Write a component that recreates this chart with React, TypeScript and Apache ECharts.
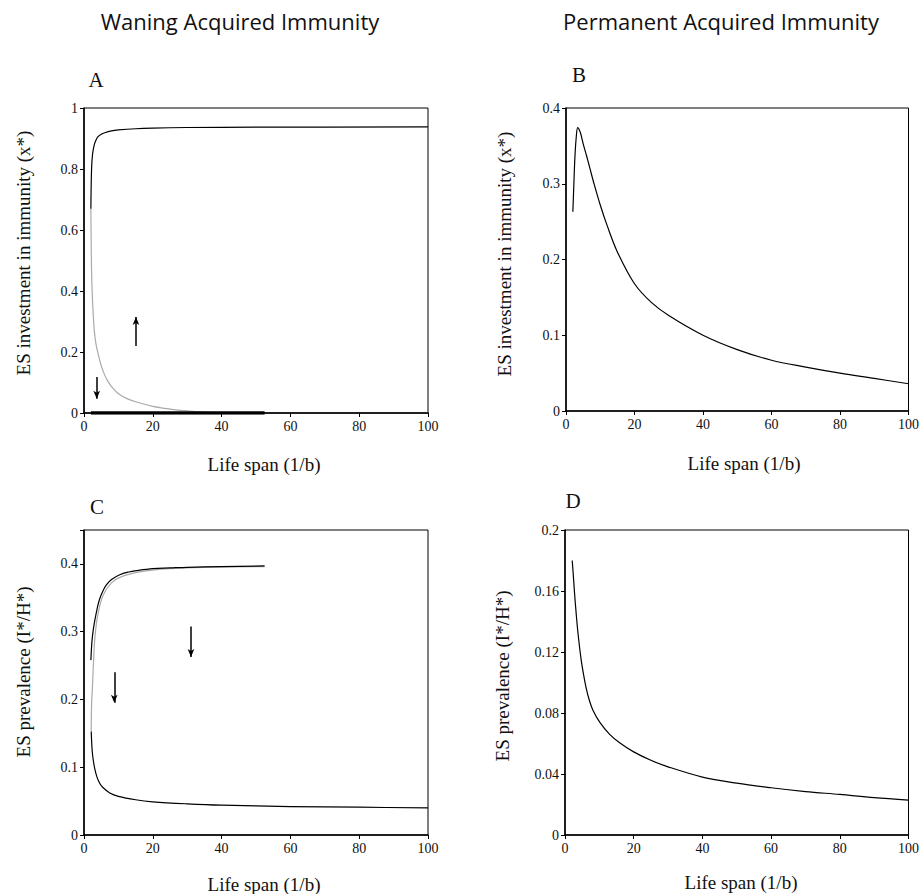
import React, { useEffect, useRef } from "react";
import * as echarts from "echarts";

// ---- Panel A: ES investment in immunity, waning immunity ----
const aUpperX = [2, 2.2, 2.5, 3, 3.5, 4, 5, 6, 8, 10, 15, 20, 30, 50, 100];
const aUpperY = [0.67, 0.8, 0.85, 0.88, 0.895, 0.905, 0.914, 0.919, 0.925, 0.928, 0.932, 0.934, 0.936, 0.937, 0.938];
const aGrayX = [2, 2.05, 2.15, 2.3, 2.6, 3, 3.5, 4.2, 5, 6, 7, 8.5, 10, 12.5, 15, 20, 25, 30, 35, 40];
const aGrayY = [0.67, 0.6, 0.5, 0.42, 0.34, 0.27, 0.225, 0.19, 0.155, 0.125, 0.103, 0.08, 0.063, 0.047, 0.037, 0.022, 0.013, 0.007, 0.003, 0.001];
const aZeroX = [2, 52.5];
const aZeroY = [0, 0];
const aArrows = [
  { x: 15.1, from: 0.22, to: 0.315 },
  { x: 3.7, from: 0.118, to: 0.047 },
];

// ---- Panel B: ES investment in immunity, permanent immunity ----
const bX = [2, 2.3, 2.6, 3, 3.4, 3.8, 4.3, 5, 6, 7, 8, 10, 12, 15, 20, 25, 30, 40, 50, 60, 70, 80, 90, 100];
const bY = [0.263, 0.3, 0.335, 0.362, 0.374, 0.372, 0.366, 0.353, 0.337, 0.32, 0.303, 0.272, 0.245, 0.21, 0.168, 0.143, 0.126, 0.1, 0.081, 0.067, 0.058, 0.05, 0.043, 0.036];

// ---- Panel C: ES prevalence, waning immunity ----
const cUpperX = [2, 2.3, 2.7, 3.2, 4, 4.6, 5.5, 6.5, 8, 10.4, 13, 15.2, 20, 25, 30, 40, 52.5];
const cUpperY = [0.258, 0.285, 0.303, 0.318, 0.338, 0.349, 0.36, 0.369, 0.377, 0.384, 0.388, 0.39, 0.393, 0.394, 0.395, 0.396, 0.397];
const cGrayX = [2.1, 2.15, 2.25, 2.4, 2.7, 3.2, 4.1, 5.6, 8, 11.3, 17.1, 24.8, 35, 52.5];
const cGrayY = [0.1525, 0.18, 0.2, 0.212, 0.248, 0.293, 0.327, 0.354, 0.372, 0.382, 0.389, 0.393, 0.395, 0.396];
const cLowerX = [2.1, 2.3, 2.5, 2.8, 3.2, 3.8, 4.6, 5.5, 7.5, 10, 15, 20, 30, 40, 60, 80, 100];
const cLowerY = [0.1525, 0.13, 0.118, 0.107, 0.096, 0.085, 0.076, 0.07, 0.062, 0.057, 0.052, 0.049, 0.046, 0.044, 0.042, 0.041, 0.04];
const cArrows = [
  { x: 31.1, from: 0.3075, to: 0.2625 },
  { x: 8.8, from: 0.24, to: 0.195 },
];

// ---- Panel D: ES prevalence, permanent immunity ----
const dX = [2.1, 2.4, 2.8, 3.3, 3.8, 4.7, 5.5, 6.2, 7, 8.1, 10.1, 13, 15.9, 20, 25, 30, 40, 50, 60, 70, 80, 90, 100];
const dY = [0.18, 0.171, 0.158, 0.144, 0.132, 0.115, 0.104, 0.096, 0.089, 0.082, 0.074, 0.066, 0.0605, 0.0545, 0.049, 0.0447, 0.038, 0.034, 0.031, 0.0285, 0.0266, 0.0245, 0.0229];

// ---- Text ----
const columnTitles = ["Waning Acquired Immunity", "Permanent Acquired Immunity"];
const panelLetters = ["A", "B", "C", "D"];
const xAxisTitle = "Life span (1/b)";
const yAxisTitles = [
  "ES investment in immunity (x*)",
  "ES investment in immunity (x*)",
  "ES prevalence (I*/H*)",
  "ES prevalence (I*/H*)",
];
const xTicks = { min: 0, max: 100, interval: 20 };
const yTicks = [
  { min: 0, max: 1, interval: 0.2 },
  { min: 0, max: 0.4, interval: 0.1 },
  { min: 0, max: 0.45, interval: 0.1 },
  { min: 0, max: 0.2, interval: 0.04 },
];

const zip = (xs: number[], ys: number[]) => xs.map((x, i) => [x, ys[i]]);

const SERIF = "Liberation Serif";
const SANS = "Open Sans";

export default function App() {
  const ref = useRef<HTMLDivElement>(null);

  useEffect(() => {
    if (!ref.current) return;
    const chart = echarts.init(ref.current, undefined, { renderer: "svg" });

    const grids = [
      { left: 84, top: 108, width: 344, height: 305 },
      { left: 566, top: 108, width: 343, height: 303 },
      { left: 84, top: 530, width: 344, height: 305 },
      { left: 565, top: 530, width: 345, height: 305 },
    ];

    const xAxes = grids.map((_, i) => ({
      type: "value",
      gridIndex: i,
      min: xTicks.min,
      max: xTicks.max,
      interval: xTicks.interval,
      splitLine: { show: false },
      axisLine: { show: true, onZero: false, lineStyle: { color: "#000", width: 1.5 } },
      axisTick: { show: true, inside: false, length: 4, lineStyle: { color: "#000", width: 1 } },
      axisLabel: { color: "#111", fontFamily: SERIF, fontSize: 14, margin: 6 },
    }));

    const yAxes = grids.map((_, i) => ({
      type: "value",
      gridIndex: i,
      min: yTicks[i].min,
      max: yTicks[i].max,
      interval: yTicks[i].interval,
      splitLine: { show: false },
      axisLine: { show: true, onZero: false, lineStyle: { color: "#000", width: 1.5 } },
      axisTick: { show: true, inside: false, length: 4, lineStyle: { color: "#000", width: 1 } },
      axisLabel: {
        color: "#111",
        fontFamily: SERIF,
        fontSize: 14,
        margin: 6,
        formatter: (v: number) => {
          const r = Math.round(v * 1000) / 1000;
          if (i === 2 && r > 0.41) return "";
          return String(r);
        },
      },
    }));

    const curve = (idx: number, xs: number[], ys: number[], color: string, width = 1.2) => ({
      type: "line",
      xAxisIndex: idx,
      yAxisIndex: idx,
      data: zip(xs, ys),
      showSymbol: false,
      smooth: 0.35,
      lineStyle: { color, width },
      z: color === "#000" ? 3 : 2,
      silent: true,
    });

    const arrows = (idx: number, list: { x: number; from: number; to: number }[]) => ({
      type: "line",
      xAxisIndex: idx,
      yAxisIndex: idx,
      data: [],
      silent: true,
      markLine: {
        silent: true,
        symbol: ["none", "arrow"],
        symbolSize: [5, 8],
        label: { show: false },
        lineStyle: { color: "#000", width: 1.5, type: "solid" },
        data: list.map((a) => [{ coord: [a.x, a.from] }, { coord: [a.x, a.to] }]),
      },
    });

    const series = [
      curve(0, aGrayX, aGrayY, "#aaa"),
      curve(0, aUpperX, aUpperY, "#000"),
      { ...curve(0, aZeroX, aZeroY, "#000", 3.5), smooth: false },
      arrows(0, aArrows),
      curve(1, bX, bY, "#000"),
      curve(2, cGrayX, cGrayY, "#aaa"),
      curve(2, cUpperX, cUpperY, "#000"),
      curve(2, cLowerX, cLowerY, "#000"),
      arrows(2, cArrows),
      curve(3, dX, dY, "#000"),
    ];

    const letterPos = [
      [96, 80],
      [579, 75],
      [97, 507],
      [573, 501],
    ];
    const xTitlePos = [
      [264, 464],
      [744, 463],
      [264, 884],
      [741, 882],
    ];
    const yTitlePos = [
      [23, 253],
      [504, 254],
      [23, 672],
      [502, 676],
    ];

    const graphic: any[] = [
      {
        type: "text",
        x: 240,
        y: 21,
        style: { text: columnTitles[0], font: `22px "${SANS}"`, fill: "#111", textAlign: "center", textVerticalAlign: "middle" },
      },
      {
        type: "text",
        x: 721,
        y: 21,
        style: { text: columnTitles[1], font: `22px "${SANS}"`, fill: "#111", textAlign: "center", textVerticalAlign: "middle" },
      },
    ];
    panelLetters.forEach((l, i) => {
      graphic.push({
        type: "text",
        x: letterPos[i][0],
        y: letterPos[i][1],
        style: { text: l, font: `21px "${SERIF}"`, fill: "#111", textAlign: "center", textVerticalAlign: "middle" },
      });
      graphic.push({
        type: "text",
        x: xTitlePos[i][0],
        y: xTitlePos[i][1],
        style: { text: xAxisTitle, font: `19px "${SERIF}"`, fill: "#111", textAlign: "center", textVerticalAlign: "middle" },
      });
      graphic.push({
        type: "text",
        x: yTitlePos[i][0],
        y: yTitlePos[i][1],
        rotation: Math.PI / 2,
        style: { text: yAxisTitles[i], font: `19px "${SERIF}"`, fill: "#111", textAlign: "center", textVerticalAlign: "middle" },
      });
    });

    chart.setOption({
      animation: false,
      backgroundColor: "#fff",
      grid: grids.map((g) => ({ ...g, show: true, borderColor: "#000", borderWidth: 1, backgroundColor: "transparent" })),
      xAxis: xAxes,
      yAxis: yAxes,
      series,
      graphic,
    });

    return () => chart.dispose();
  }, []);

  return (
    <div
      ref={ref}
      style={{ position: "absolute", left: 0, top: 0, width: 922, height: 894 }}
    />
  );
}
